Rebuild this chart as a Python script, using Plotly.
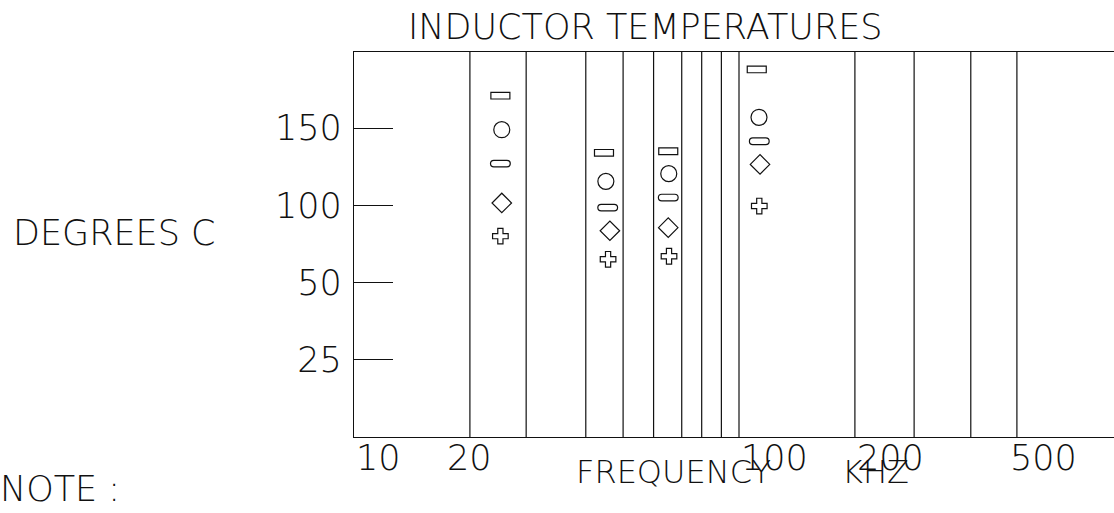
import math
import plotly.graph_objects as go

# ---------------- data ----------------
title_text = "INDUCTOR TEMPERATURES"
y_title = "DEGREES\u00a0C"
x_title_left = "FREQUENCY"
x_title_right = "KHZ"
note_text = "NOTE\u00a0:"

x_tick_values = [10, 20, 100, 200, 500]
x_tick_labels = ["10", "20", "100", "200", "500"]

y_tick_values = [0, 50, 100, 150]
y_tick_labels = ["25", "50", "100", "150"]

# frequencies (kHz) of the vertical reference lines
line_freqs = [20, 28, 40, 50, 60, 71, 80, 90, 100, 200, 285, 400, 527]

# five temperature series (frequency kHz, degrees C)
rect_f = [24.0, 44.6, 65.5, 111.2]
rect_t = [171, 134, 135, 188]
circle_f = [24.2, 45.1, 65.7, 112.7]
circle_t = [149, 115.5, 120.5, 157]
dash_f = [24.0, 45.6, 65.5, 112.9]
dash_t = [127, 98.5, 105, 141.5]
diamond_f = [24.2, 46.2, 65.5, 113.4]
diamond_t = [101.5, 83.5, 85.5, 126.5]
plus_f = [24.0, 45.7, 65.8, 112.9]
plus_t = [80, 65, 67, 99.5]

# ---------------- layout constants ----------------
W, H = 1114, 513
L, R, T, B = 354, 0, 52, 76
PW = W - L - R
PH = H - T - B
FONT = "DejaVu Sans"
INK = "#111111"


def px(x):
    return (x - L) / PW


def py(y):
    return (H - B - y) / PH


fig = go.Figure()

# circles / diamonds / plus markers
fig.add_trace(go.Scatter(x=circle_f, y=circle_t, mode="markers",
                         marker=dict(symbol="circle-open", size=16, color=INK,
                                     line=dict(width=1.2, color=INK)),
                         showlegend=False))
fig.add_trace(go.Scatter(x=diamond_f, y=diamond_t, mode="markers",
                         marker=dict(symbol="diamond-open", size=15, color=INK,
                                     line=dict(width=1.2, color=INK)),
                         showlegend=False))
fig.add_trace(go.Scatter(x=plus_f, y=plus_t, mode="markers",
                         marker=dict(symbol="cross-open", size=13, color=INK,
                                     line=dict(width=1.2, color=INK)),
                         showlegend=False))

shapes = []
# vertical reference lines
for f in line_freqs:
    shapes.append(dict(type="line", xref="x", yref="paper", x0=f, x1=f, y0=0, y1=1,
                       line=dict(color=INK, width=1.2), layer="below"))
# rectangle markers
rect_path = "M -9.5,-3.3 L 9.5,-3.3 L 9.5,3.3 L -9.5,3.3 Z"
for f, t in zip(rect_f, rect_t):
    shapes.append(dict(type="path", xref="x", yref="y", xsizemode="pixel", ysizemode="pixel",
                       xanchor=f, yanchor=t, path=rect_path,
                       line=dict(color=INK, width=1.2)))
# capsule (dash) markers
capsule = ("M -6.5,-3.3 L 6.5,-3.3 C 11,-3.3 11,3.3 6.5,3.3 "
           "L -6.5,3.3 C -11,3.3 -11,-3.3 -6.5,-3.3 Z")
for f, t in zip(dash_f, dash_t):
    shapes.append(dict(type="path", xref="x", yref="y", xsizemode="pixel", ysizemode="pixel",
                       xanchor=f, yanchor=t, path=capsule,
                       line=dict(color=INK, width=1.2)))

tfont = dict(family=FONT, size=35, color=INK, weight=200)

annotations = []
annotations.append(dict(text=title_text, xref="paper", yref="paper", x=px(645), y=py(27),
                        xanchor="center", yanchor="middle", showarrow=False, font=tfont))
annotations.append(dict(text=y_title, xref="paper", yref="paper", x=px(11), y=py(233),
                        xanchor="left", yanchor="middle", showarrow=False, font=tfont))
annotations.append(dict(text=note_text, xref="paper", yref="paper", x=px(-2), y=py(489),
                        xanchor="left", yanchor="middle", showarrow=False, font=tfont))
annotations.append(dict(text=x_title_left, xref="paper", yref="paper", x=px(574), y=py(472),
                        xanchor="left", yanchor="middle", showarrow=False,
                        font=dict(tfont, size=32)))
annotations.append(dict(text=x_title_right, xref="paper", yref="paper", x=px(840), y=py(472),
                        xanchor="left", yanchor="middle", showarrow=False,
                        font=dict(tfont, size=32)))
# x tick labels: left aligned at their value, except "20" which is centred
for v, lab in zip(x_tick_values, x_tick_labels):
    anchor = "center" if v == 20 else "left"
    annotations.append(dict(text=lab, xref="x", yref="paper", x=math.log10(v), y=py(458),
                            xanchor=anchor, yanchor="middle", showarrow=False, font=tfont))

fig.update_layout(
    width=W, height=H,
    margin=dict(l=L, r=R, t=T, b=B, pad=0),
    paper_bgcolor="white", plot_bgcolor="white",
    showlegend=False,
    shapes=shapes,
    annotations=annotations,
    xaxis=dict(type="log", range=[1, 1 + PW / 385.0], showgrid=False, zeroline=False,
               showticklabels=False, ticks="", showline=True, mirror=True,
               linecolor=INK, linewidth=1.3),
    yaxis=dict(range=[-50.1, 199.3], showgrid=False, zeroline=False,
               tickvals=y_tick_values, ticktext=y_tick_labels,
               ticks="inside", ticklen=39, tickwidth=1.3, tickcolor=INK,
               tickfont=tfont, ticklabelstandoff=4,
               showline=True, linecolor=INK, linewidth=1.3),
)

fig.write_html("out.html",
               config={"displayModeBar": False},
               post_script="document.body.style.margin='0';"
                           "document.body.style.overflow='hidden';")
